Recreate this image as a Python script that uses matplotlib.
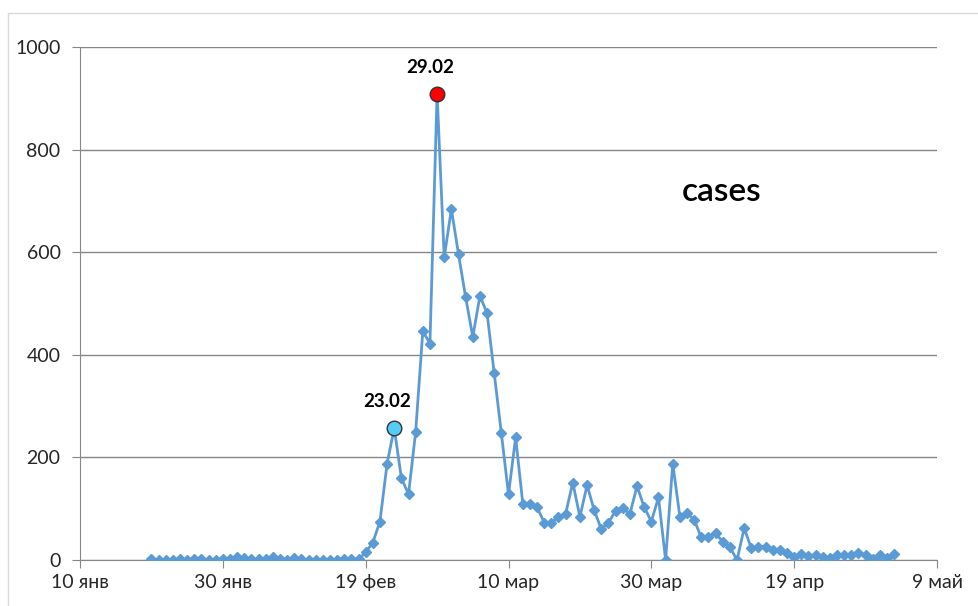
import matplotlib
matplotlib.use("Agg")
import matplotlib.pyplot as plt
from matplotlib.patches import Rectangle
import pandas as pd

plt.rcParams["font.family"] = ["Lato", "DejaVu Sans"]

# daily new cases, one value per day starting 20 Jan 2020
start_date = "2020-01-20"
cases = [
    1, 0, 0, 0, 1, 0, 1, 1, 0, 0, 2, 1,              # 20-31 Jan
    6, 4, 1, 1, 2, 5, 1, 0, 3, 2, 0, 0, 0, 0, 0, 1, 1, 1,  # 1-18 Feb
    15, 34, 75, 188, 257, 160, 128, 250, 446, 422, 909,    # 19-29 Feb
    590, 684, 596, 512, 435, 515, 481, 364, 247, 128, 239,
    110, 109, 103, 73, 73, 83, 90, 151, 84, 146, 97,
    60, 73, 96, 101, 90, 144, 103, 75, 122,                # March
    0, 188, 84, 92, 78, 44, 45, 52, 36, 25, 0, 62,
    23, 26, 26, 19, 19, 14, 6, 12, 8, 10, 5, 3,
    10, 10, 10, 14, 10, 1,                                 # April
    10, 3, 12,                                             # May
]
highlights = ["2020-02-23", "2020-02-29"]
highlight_labels = ["23.02", "29.02"]
highlight_colors = ["#55CCF5", "#FF0000"]

tick_dates = ["2020-01-10", "2020-01-30", "2020-02-19", "2020-03-10",
              "2020-03-30", "2020-04-19", "2020-05-09"]
tick_labels = ["10 янв", "30 янв", "19 фев", "10 мар", "30 мар", "19 апр", "9 май"]

dates = pd.date_range(start_date, periods=len(cases))
s = pd.Series(cases, index=dates)

fig = plt.figure(figsize=(9.79, 6.06), dpi=100)
ax = fig.add_axes([80 / 979, 1 - 560 / 606, 857 / 979, 513 / 606])

# outer chart frame
fig.patches.append(Rectangle((8 / 979, -0.1), 1.2, (606 - 13) / 606 + 0.1,
                             transform=fig.transFigure, fill=False,
                             edgecolor="#d9d9d9", linewidth=1))

ax.plot(s.index, s.values, color="#5B9BD5", linewidth=2,
        marker="D", markersize=5.5, zorder=3)

for d, lab, col in zip(highlights, highlight_labels, highlight_colors):
    d = pd.Timestamp(d)
    ax.plot(d, s[d], marker="o", markersize=10.5, markerfacecolor=col,
            markeredgecolor="#333333", markeredgewidth=1, zorder=4)
    ax.annotate(lab, (d, s[d]), xytext=(-5, 13), textcoords="offset points",
                ha="center", va="bottom", fontsize=13.5, fontweight="bold")

ax.text(0.749, 0.717, "cases", transform=ax.transAxes, fontsize=24,
        fontweight="semibold", ha="center", va="center")

ax.set_ylim(0, 1000)
ax.set_yticks(range(0, 1001, 200))
ax.set_xlim(pd.Timestamp(tick_dates[0]), pd.Timestamp(tick_dates[-1]))
ax.set_xticks([pd.Timestamp(t) for t in tick_dates])
ax.set_xticklabels(tick_labels)

ax.grid(axis="y", color="#868686", linewidth=1)
ax.set_axisbelow(True)
for side in ["top", "right"]:
    ax.spines[side].set_visible(False)
ax.spines["left"].set_color("#868686")
ax.spines["bottom"].set_color("#868686")
ax.tick_params(axis="y", length=6, color="#868686", labelsize=14,
               labelcolor="#262626", pad=8)
ax.tick_params(axis="x", length=6, color="#868686", labelsize=14,
               labelcolor="#262626", pad=4)

fig.savefig("out.png", dpi=100)
